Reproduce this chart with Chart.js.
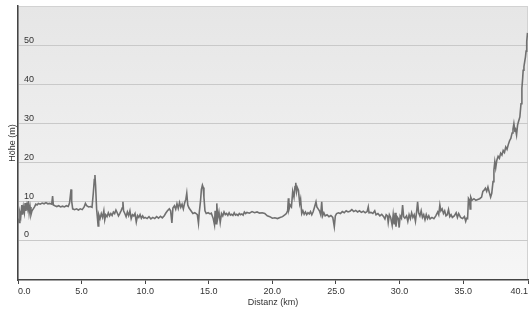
<!DOCTYPE html>
<html>
<head>
<meta charset="utf-8">
<script src="https://cdn.jsdelivr.net/npm/chart.js@4/dist/chart.umd.min.js"></script>
<style>
  html, body { margin: 0; padding: 0; background: #fff; }
  #wrap { width: 531px; height: 313px; }
</style>
</head>
<body>
<div id="wrap"><canvas id="chart"></canvas></div>
<script>
// distance in km, height in m
var distances = [
  0.0, 0.08, 0.15, 0.22, 0.3, 0.36, 0.42, 0.5, 0.56, 0.62, 0.7, 0.76, 0.82, 0.88, 0.95, 1.02, 1.1, 1.2, 1.3, 1.4,
  1.5, 1.6, 1.75, 1.9, 2.05, 2.2, 2.35, 2.5, 2.65, 2.72, 2.78, 2.9, 3.05, 3.2, 3.35, 3.5, 3.65, 3.8, 3.95, 4.05,
  4.12, 4.17, 4.22, 4.3, 4.45, 4.6, 4.75, 4.9, 5.05, 5.2, 5.3, 5.4, 5.55, 5.7, 5.82, 5.92, 6.0, 6.05, 6.1, 6.18,
  6.25, 6.3, 6.35, 6.45, 6.55, 6.65, 6.75, 6.82, 6.9, 7.0, 7.1, 7.2, 7.3, 7.4, 7.5, 7.6, 7.7, 7.8, 7.9, 8.0,
  8.1, 8.2, 8.25, 8.3, 8.4, 8.5, 8.6, 8.7, 8.8, 8.9, 9.0, 9.1, 9.2, 9.3, 9.4, 9.5, 9.6, 9.7, 9.8, 9.9,
  10.0, 10.15, 10.3, 10.45, 10.6, 10.75, 10.9, 11.05, 11.2, 11.35, 11.5, 11.6, 11.75, 11.9, 12.0, 12.1, 12.18, 12.3, 12.4, 12.5,
  12.6, 12.7, 12.8, 12.9, 13.0, 13.1, 13.2, 13.27, 13.35, 13.45, 13.6, 13.75, 13.9, 14.0, 14.1, 14.19, 14.25, 14.35, 14.42, 14.5,
  14.56, 14.62, 14.7, 14.8, 14.95, 15.1, 15.2, 15.35, 15.45, 15.5, 15.58, 15.63, 15.7, 15.8, 15.9, 16.0, 16.1, 16.2, 16.3, 16.4,
  16.5, 16.6, 16.7, 16.8, 16.9, 17.0, 17.1, 17.2, 17.3, 17.4, 17.5, 17.6, 17.7, 17.8, 17.9, 18.0, 18.2, 18.4, 18.6, 18.8,
  19.0, 19.2, 19.4, 19.6, 19.8, 20.0, 20.2, 20.4, 20.6, 20.8, 21.0, 21.1, 21.2, 21.26, 21.3, 21.4, 21.5, 21.6, 21.7, 21.78,
  21.84, 21.9, 21.96, 22.05, 22.15, 22.22, 22.31, 22.4, 22.5, 22.6, 22.7, 22.8, 22.9, 23.0, 23.1, 23.2, 23.3, 23.43, 23.5, 23.6,
  23.7, 23.8, 23.88, 23.95, 24.05, 24.15, 24.3, 24.45, 24.6, 24.75, 24.87, 24.95, 25.05, 25.2, 25.35, 25.5, 25.65, 25.8, 25.95, 26.1,
  26.25, 26.4, 26.55, 26.7, 26.85, 27.0, 27.15, 27.3, 27.45, 27.54, 27.6, 27.75, 27.9, 28.05, 28.15, 28.3, 28.45, 28.6, 28.75, 28.85,
  28.95, 29.05, 29.11, 29.2, 29.3, 29.42, 29.5, 29.58, 29.65, 29.72, 29.8, 29.9, 29.97, 30.05, 30.15, 30.24, 30.32, 30.42, 30.55, 30.65,
  30.75, 30.85, 30.95, 31.05, 31.15, 31.25, 31.35, 31.42, 31.5, 31.6, 31.7, 31.8, 31.9, 32.0, 32.1, 32.2, 32.3, 32.4, 32.55, 32.7,
  32.85, 33.0, 33.08, 33.17, 33.25, 33.35, 33.45, 33.55, 33.65, 33.75, 33.85, 33.95, 34.05, 34.15, 34.3, 34.45, 34.55, 34.65, 34.8, 34.95,
  35.1, 35.2, 35.27, 35.35, 35.42, 35.5, 35.55, 35.6, 35.7, 35.85, 36.0, 36.15, 36.3, 36.45, 36.55, 36.65, 36.75, 36.85, 36.95, 37.05,
  37.16, 37.25, 37.35, 37.42, 37.49, 37.56, 37.65, 37.75, 37.85, 37.95, 38.05, 38.15, 38.25, 38.35, 38.45, 38.55, 38.65, 38.75, 38.85, 38.92,
  38.99, 39.06, 39.12, 39.2, 39.28, 39.36, 39.46, 39.55, 39.62, 39.68, 39.72, 39.78, 39.85, 39.9, 39.95, 40.0, 40.06
];
var heights = [
  5.5, 4.5, 7, 6, 9, 6.5, 8.5, 7, 9.5, 7.5, 9, 8, 10, 7, 8.5, 6.5, 7.5, 8, 8.5, 9.2,
  9.0, 9.4, 9.2, 9.5, 9.3, 9.6, 9.3, 9.4, 9.2, 11.3, 9.0, 8.8, 8.6, 8.8, 8.5, 8.7, 8.5, 8.8, 8.6, 9.5,
  11.5, 13.0, 10, 8.0, 7.8, 8.0, 7.7, 8.0, 7.8, 8.5, 9.4, 8.8, 8.5, 8.6, 8.4, 12, 15.5, 16.7, 14, 8,
  5.5, 3.6, 6.5, 5.5, 6.8, 5.8, 7.5, 5.2, 6.5, 6, 7, 6.2, 6.8, 6.3, 7.2, 6.8, 7.7, 7, 6.2, 6.8,
  7.5, 8.3, 9.8, 7.5, 6.8, 6, 7.2, 6.3, 7.5, 5.5, 6.5, 6.2, 6.8, 4.6, 6.3, 5.8, 6.5, 5.6, 6.2, 5.6,
  5.8, 5.5, 6, 5.4, 5.8, 5.5, 6.0, 5.6, 6.1, 5.7, 6.2, 6.8, 7.5, 8, 7.5, 4.4, 8.2, 8.8, 7.9, 9.3,
  8.1, 9.6, 8.4, 9.2, 8.0, 9.5, 10.5, 12, 9, 8.2, 7.5, 6.8, 7, 6.8, 6.5, 4.3, 7, 10, 13, 14.1,
  13.5, 11, 7.5, 6.8, 7, 6.7, 6.9, 5.5, 3.9, 7.5, 4.2, 9.4, 5.5, 7.2, 4.5, 6.8, 6.2, 7.2, 6.5, 6.8,
  6.3, 7, 6.4, 6.6, 6.3, 7, 6.4, 6.6, 6.3, 6.8, 6.5, 6.7, 6.4, 7.2, 6.8, 7.1, 6.9, 7.3, 7.0, 7.2,
  6.9, 7.0, 6.8, 6.2, 6, 5.6, 5.7, 5.5, 5.8, 6, 6.5, 6.8, 7.5, 10.7, 7.8, 9, 8.5, 12.5, 11, 13.7,
  14.7, 12.4, 13.5, 12.8, 9.4, 10.5, 6.8, 7.5, 6.6, 7.2, 6.5, 7, 6.7, 7.3, 6.5, 7.2, 8.3, 9.8, 8.5, 8,
  7.5, 6.5, 9.8, 6.2, 7, 6.2, 6.5, 6, 6.3, 5.8, 3.4, 6.2, 6.8, 7, 6.8, 7.3, 7, 7.5, 7.2, 7.4,
  7.8, 7.3, 7.6, 7.2, 7.5, 7.1, 7.4, 7, 7.3, 8.5, 7, 7.1, 6.8, 7.5, 6.5, 6.8, 6.2, 6.6, 6, 5.4,
  6.5, 6.2, 4.5, 6.5, 5.8, 3.8, 6.5, 4, 7, 3.4, 6, 5.5, 3.2, 6.2, 5.6, 9, 6, 5.6, 6.2, 4.8,
  6.5, 5.5, 7, 5.8, 6.5, 4.8, 7.5, 9.8, 7, 6.2, 7.5, 5.8, 6.5, 5.2, 6.5, 5.5, 6.2, 5.4, 5.8, 5.5,
  6.2, 7.2, 6.5, 9, 7.5, 8, 6.8, 7.5, 6.2, 6.5, 7.8, 6, 6.5, 5.8, 6.2, 7, 5.8, 6.8, 5.8, 5.5,
  6, 4.8, 5.6, 5.5, 10.7, 10.3, 8, 11, 10.2, 10.6, 10.2, 10.4, 10.6, 11, 12.5, 12.8, 13.3, 12.5, 13.6, 12.3,
  11, 12, 15, 18, 20.1, 18.5, 20.5, 21.5, 21, 22.3, 21.8, 23, 22.5, 23.9, 23.3, 24.5, 25.5, 26.1, 27.5, 28.5,
  29.9, 28.2, 28.5, 27, 29.5, 30.5, 31.6, 35, 39, 41.5, 43.6, 44.5, 46, 47, 48.5, 51, 53.2
];
var xTicks = [0, 5, 10, 15, 20, 25, 30, 35, 40.1];
var yTicks = [0, 10, 20, 30, 40, 50];

var points = distances.map(function (d, i) { return { x: d, y: heights[i] }; });

var panelBackground = {
  id: "panelBackground",
  beforeDraw: function (chart) {
    var ctx = chart.ctx;
    var a = chart.chartArea;
    var grad = ctx.createLinearGradient(0, a.top, 0, a.bottom);
    grad.addColorStop(0, "#e6e6e6");
    grad.addColorStop(1, "#f6f6f6");
    ctx.save();
    ctx.fillStyle = grad;
    ctx.fillRect(a.left, a.top, a.right - a.left, a.bottom - a.top);
    ctx.strokeStyle = "#d2d2d2";
    ctx.lineWidth = 1;
    ctx.strokeRect(a.left + 0.5, a.top + 0.5, a.right - a.left - 1, a.bottom - a.top - 1);
    ctx.restore();
  },
};

function noEdgePadding(scale) {
  scale.paddingLeft = 0;
  scale.paddingRight = 0;
  scale.paddingTop = 0;
  scale.paddingBottom = 0;
}

var font = { family: "'Liberation Sans', Arial, sans-serif", size: 9 };

new Chart(document.getElementById("chart"), {
  type: "line",
  data: {
    datasets: [
      {
        data: points,
        borderColor: "#707070",
        borderWidth: 1.6,
        pointRadius: 0,
        tension: 0,
        fill: false,
      },
    ],
  },
  plugins: [panelBackground],
  options: {
    responsive: true,
    maintainAspectRatio: false,
    animation: false,
    layout: { padding: { left: 0, right: 3, top: 6, bottom: 0 } },
    plugins: {
      legend: { display: false },
      tooltip: { enabled: false },
    },
    scales: {
      x: {
        type: "linear",
        min: 0,
        max: 40.1,
        afterBuildTicks: function (scale) {
          scale.ticks = xTicks.map(function (v) { return { value: v }; });
        },
        afterFit: function (scale) {
          scale.height = 33;
          noEdgePadding(scale);
        },
        ticks: {
          autoSkip: false,
          maxRotation: 0,
          align: "inner",
          padding: 2,
          color: "#333",
          font: font,
          callback: function (v) { return Number(v).toFixed(1); },
        },
        grid: {
          drawOnChartArea: false,
          drawTicks: true,
          tickLength: 4,
          color: "#444",
        },
        border: { color: "#444", width: 1.5 },
        title: {
          display: true,
          text: "Distanz (km)",
          color: "#333",
          font: font,
          padding: { top: 0, bottom: 5 },
        },
      },
      y: {
        min: -10.27,
        max: 60.1,
        afterBuildTicks: function (scale) {
          scale.ticks = yTicks.map(function (v) { return { value: v }; });
        },
        afterFit: function (scale) {
          scale.width = 18;
          noEdgePadding(scale);
        },
        ticks: {
          mirror: true,
          padding: 6,
          labelOffset: -5,
          color: "#333",
          font: font,
        },
        grid: {
          drawTicks: false,
          color: "#c9c9c9",
          lineWidth: 1,
        },
        border: { color: "#444", width: 1.5 },
        title: {
          display: true,
          text: "Höhe (m)",
          color: "#333",
          font: font,
          padding: { top: 7, bottom: 0 },
        },
      },
    },
  },
});
</script>
</body>
</html>
